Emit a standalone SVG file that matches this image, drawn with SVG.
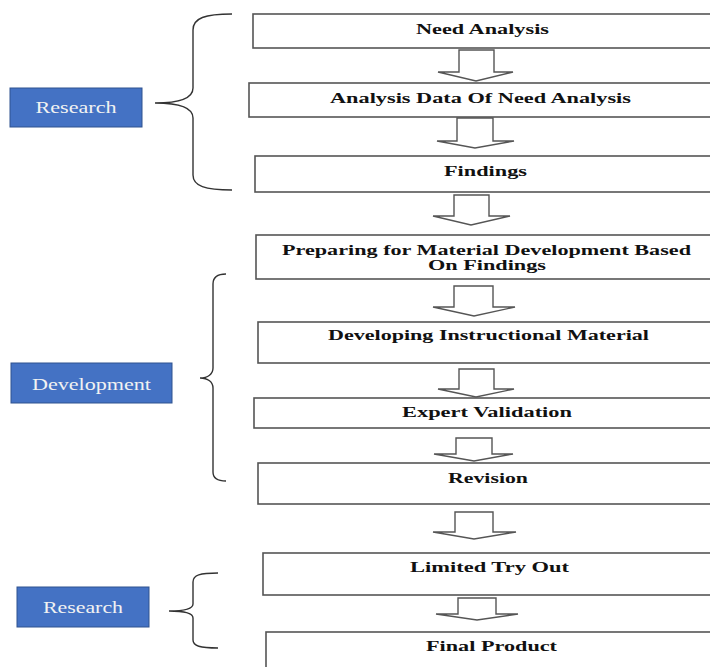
<svg xmlns="http://www.w3.org/2000/svg" width="710" height="667" viewBox="0 0 710 667">
<style>
.box{fill:#fff;stroke:#555;stroke-width:1.6}
.t{font-family:"Liberation Serif","Times New Roman",serif;font-weight:bold;font-size:15px;fill:#111;text-anchor:middle}
.lab{fill:#4472C4;stroke:#2F528F;stroke-width:1}
.lt{font-family:"Liberation Serif","Times New Roman",serif;font-size:16px;fill:#f2f2f2;text-anchor:middle}
.arr{fill:#fff;stroke:#555;stroke-width:1.4;stroke-linejoin:miter}
.brace{fill:none;stroke:#333;stroke-width:1.4}
</style>
<rect width="710" height="667" fill="#fff"/>
<g id="connectors">
<polygon class="arr" points="459,50 494,50 494,72 513,72 476,81 438,72 459,72"/>
<polygon class="arr" points="457,118 493,118 493,141 514,141 475,148 437,141 457,141"/>
<polygon class="arr" points="454,195 489,195 489,216 510,216 471,225 433,216 454,216"/>
<polygon class="arr" points="454,286 493,286 493,307 515,307 474,316 433,307 454,307"/>
<polygon class="arr" points="459,369 494,369 494,389 514,389 476,397 438,389 459,389"/>
<polygon class="arr" points="456,438 492,438 492,454 513,454 474,461 434,454 456,454"/>
<polygon class="arr" points="455,512 493,512 493,532 516,532 474,539 433,532 455,532"/>
<polygon class="arr" points="458,598 496,598 496,614 518,614 477,620 436,614 458,614"/>
<path class="brace" d="M232,14 C205,14 193,18 193,30 L193,88 C193,98 180,103 155,103 C180,103 193,108 193,118 L193,175 C193,186 205,190 232,190"/>
<path class="brace" d="M226,274 C217,274 213,277 213,284 L213,368 C213,374 208,378 200,378 C208,378 213,382 213,388 L213,472 C213,478 217,481 226,481"/>
<path class="brace" d="M218,573 C200,573 193,575 193,582 L193,604 C193,609 185,611 169,611 C185,611 193,613 193,618 L193,640 C193,646 200,648 218,648"/>
</g>
<g id="n1"><rect class="box" x="253" y="14" width="470" height="34"/><text class="t" x="482.5" y="34" textLength="133" lengthAdjust="spacingAndGlyphs">Need Analysis</text></g>
<g id="n2"><rect class="box" x="249" y="83" width="474" height="34"/><text class="t" x="480.5" y="103" textLength="301" lengthAdjust="spacingAndGlyphs">Analysis Data Of Need Analysis</text></g>
<g id="n3"><rect class="box" x="255" y="156" width="468" height="36"/><text class="t" x="485.5" y="176" textLength="83" lengthAdjust="spacingAndGlyphs">Findings</text></g>
<g id="n4"><rect class="box" x="256" y="235" width="467" height="44"/><text class="t" x="486.5" y="255" textLength="409" lengthAdjust="spacingAndGlyphs">Preparing for Material Development Based</text><text class="t" x="487" y="270" textLength="118" lengthAdjust="spacingAndGlyphs">On Findings</text></g>
<g id="n5"><rect class="box" x="258" y="322" width="465" height="41"/><text class="t" x="488.5" y="340" textLength="321" lengthAdjust="spacingAndGlyphs">Developing Instructional Material</text></g>
<g id="n6"><rect class="box" x="254" y="398" width="469" height="30"/><text class="t" x="487" y="417" textLength="170" lengthAdjust="spacingAndGlyphs">Expert Validation</text></g>
<g id="n7"><rect class="box" x="258" y="463" width="465" height="41"/><text class="t" x="488" y="483" textLength="80" lengthAdjust="spacingAndGlyphs">Revision</text></g>
<g id="n8"><rect class="box" x="263" y="553" width="460" height="42"/><text class="t" x="489.5" y="572" textLength="159" lengthAdjust="spacingAndGlyphs">Limited Try Out</text></g>
<g id="n9"><rect class="box" x="266" y="632" width="457" height="50"/><text class="t" x="491.5" y="651" textLength="131" lengthAdjust="spacingAndGlyphs">Final Product</text></g>
<g id="l1"><rect class="lab" x="10" y="88" width="132" height="39"/><text class="lt" x="76" y="113" textLength="81" lengthAdjust="spacingAndGlyphs">Research</text></g>
<g id="l2"><rect class="lab" x="11" y="363" width="161" height="40"/><text class="lt" x="91.5" y="390" textLength="119" lengthAdjust="spacingAndGlyphs">Development</text></g>
<g id="l3"><rect class="lab" x="17" y="587" width="132" height="40"/><text class="lt" x="83" y="613" textLength="80" lengthAdjust="spacingAndGlyphs">Research</text></g>
</svg>
